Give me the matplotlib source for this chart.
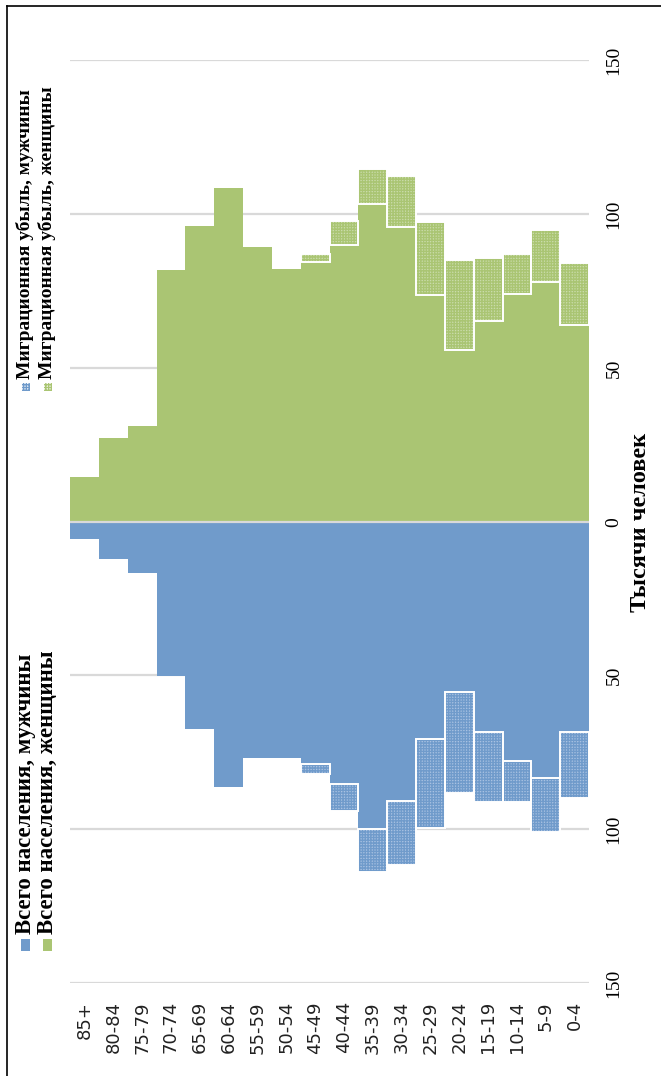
import numpy as np
import matplotlib.pyplot as plt
from matplotlib.patches import Rectangle
from matplotlib.lines import Line2D

ages = ['85+', '80-84', '75-79', '70-74', '65-69', '60-64', '55-59', '50-54', '45-49',
        '40-44', '35-39', '30-34', '25-29', '20-24', '15-19', '10-14', '5-9', '0-4']
male_total = [5.5, 12, 16.6, 50.3, 67.3, 86.3, 76.7, 76.7, 78.9,
              85.2, 100, 90.9, 70.8, 55.4, 68.4, 77.9, 83.2, 68.4]
male_migr = [0, 0, 0, 0, 0, 0, 0, 0, 3.0,
             8.8, 13.9, 20.6, 28.8, 32.7, 22.9, 13.4, 17.7, 21.3]
female_total = [14.6, 27.3, 31.2, 82, 96.3, 108.4, 89.2, 82.3, 84.4,
                90.0, 103.4, 95.8, 73.7, 55.9, 65.4, 74.1, 78.1, 64.0]
female_migr = [0, 0, 0, 0, 0, 0, 0, 0, 2.7,
               7.9, 11.4, 16.5, 23.9, 29.2, 20.4, 13.0, 16.8, 20.3]
ticks = [-150, -100, -50, 0, 50, 100, 150]
tick_labels = ['150', '100', '50', '0', '50', '100', '150']

blue = '#709bcb'
green = '#aac573'
blue_lt = '#a9c2e2'
green_lt = '#cadcab'
serif = 'Liberation Serif'

W, H = 661, 1076
fig = plt.figure(figsize=(W / 100, H / 100), dpi=100)
ax = fig.add_axes([70 / W, 1 - 983 / H, 519 / W, 922.5 / H])

x = np.arange(len(ages))
mt = -np.array(male_total)
mm = -np.array(male_migr)
ft = np.array(female_total)
fm = np.array(female_migr)

for y in ticks:
    ax.axhline(y, color='#d9d9d9', lw=1.6, zorder=0)
ax.axhline(0, color='#d9d9d9', lw=1.6, zorder=4)

ax.bar(x, mt, width=1, color=blue, linewidth=0, zorder=2)
ax.bar(x, ft, width=1, color=green, linewidth=0, zorder=2)

plt.rcParams['hatch.linewidth'] = 1.0
has_m = mm != 0
has_f = fm != 0
ax.bar(x[has_m], mm[has_m], bottom=mt[has_m], width=1, color=blue_lt,
       edgecolor=blue, hatch='++++++', linewidth=0, zorder=2)
ax.bar(x[has_m], mm[has_m], bottom=mt[has_m], width=1, fill=False,
       edgecolor='white', linewidth=1.4, zorder=3)
ax.bar(x[has_f], fm[has_f], bottom=ft[has_f], width=1, color=green_lt,
       edgecolor=green, hatch='++++++', linewidth=0, zorder=2)
ax.bar(x[has_f], fm[has_f], bottom=ft[has_f], width=1, fill=False,
       edgecolor='white', linewidth=1.4, zorder=3)

ax.set_xlim(-0.5, len(ages) - 0.5)
ax.set_ylim(-150, 150)
for s in ax.spines.values():
    s.set_visible(False)

ax.set_xticks(x)
ax.set_xticklabels(ages, rotation=90, fontsize=13, family='DejaVu Sans', color='#222222')
ax.tick_params(axis='x', length=0, pad=13)

ax.yaxis.tick_right()
ax.set_yticks(ticks)
ax.set_yticklabels(tick_labels, rotation=90, va='center', fontsize=14, family=serif)
ax.tick_params(axis='y', length=0, pad=12)

fig.text(641 / W, 1 - 522 / H, 'Тысячи человек', rotation=90, ha='center', va='center',
         fontsize=17.5, fontweight='bold', family=serif)

# legend, drawn rotated by hand
entries = [
    (25.5, 951, 934, 16.5, blue, None, 'Всего населения, мужчины'),
    (47.5, 951, 934, 16.5, green, None, 'Всего населения, женщины'),
    (25.5, 391, 379, 14, blue, '++++++', 'Миграционная убыль, мужчины'),
    (47.5, 391, 379, 14, green, '++++++', 'Миграционная убыль, женщины'),
]
for cx, hy, ty, fs, col, hatch, label in entries:
    if hatch is None:
        r = Rectangle(((cx - 5) / W, 1 - hy / H), 9 / W, 12 / H, transform=fig.transFigure,
                      facecolor=col, edgecolor='none')
    else:
        r = Rectangle(((cx - 4) / W, 1 - hy / H), 8 / W, 8 / H, transform=fig.transFigure,
                      facecolor='white', edgecolor=col, hatch=hatch, linewidth=0)
    fig.patches.append(r)
    fig.text(cx / W, 1 - ty / H, label, rotation=90, ha='center', va='bottom',
             fontsize=fs, fontweight='bold', family=serif)

# outer frame (left and top edges visible)
fig.add_artist(Line2D([7 / W, 7 / W], [0, 1 - 6 / H], transform=fig.transFigure, color='black', lw=1.2))
fig.add_artist(Line2D([7 / W, 1], [1 - 6 / H, 1 - 6 / H], transform=fig.transFigure, color='black', lw=1.2))

fig.savefig('out.png', dpi=100)
